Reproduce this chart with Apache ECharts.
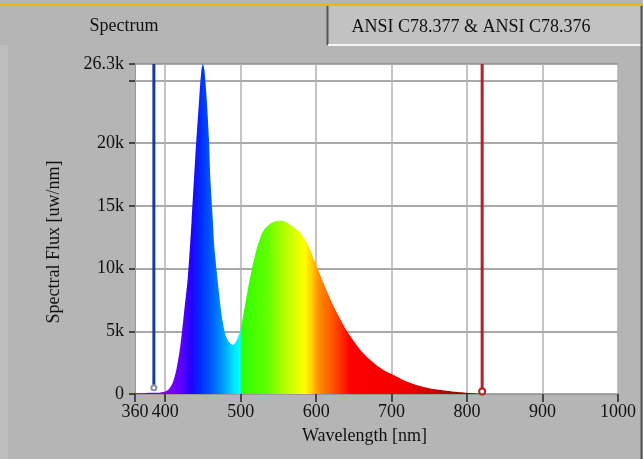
<!DOCTYPE html>
<html>
<head>
<meta charset="utf-8">
<script src="https://cdn.jsdelivr.net/npm/echarts@6/dist/echarts.min.js"></script>
<style>
  html, body { margin: 0; padding: 0; background: #b5b5b5; }
  #chart { width: 643px; height: 459px; }
</style>
</head>
<body>
<div id="chart"></div>
<script>
// spectrum, flux in uw/nm
const wavelengths = [360, 370, 380, 390, 400, 405, 410, 415, 420, 425, 430, 435, 440, 445, 448, 450, 452, 455, 458, 460, 463, 465, 470, 475, 480, 485, 490, 495, 500, 505, 510, 515, 520, 525, 530, 540, 550, 555, 560, 570, 580, 590, 600, 610, 620, 630, 640, 650, 660, 670, 680, 690, 700, 720, 740, 760, 780, 800, 810, 820, 1000]
const flux = [50, 50, 100, 100, 200, 400, 900, 2000, 3800, 6500, 9300, 13800, 19000, 23500, 25800, 26300, 25800, 23500, 20300, 17000, 14000, 11800, 8800, 6200, 4700, 4100, 3900, 4300, 5200, 6800, 8500, 10000, 11300, 12300, 13000, 13600, 13800, 13800, 13700, 13300, 12800, 11800, 10300, 8800, 7400, 6200, 5100, 4200, 3400, 2800, 2300, 1900, 1600, 1000, 600, 350, 200, 100, 50, 0, 0]

// the two limit markers
const blueLine = [[385, 26300], [385, 500]]
const redLine = [[820, 26300], [820, 200]]

const xTicks = [360, 400, 500, 600, 700, 800, 900, 1000]
const yMax = 26300

// rainbow colours along the wavelength axis
const colorStops = [
  [360, '#7000c0'], [400, '#8000f0'], [420, '#6000ff'], [435, '#2000ff'],
  [448, '#0030ff'], [465, '#0068ff'], [478, '#00a0ff'], [490, '#00e0ff'],
  [499, '#00ffff'], [502, '#30ff00'], [535, '#60ff00'], [552, '#a0ff00'],
  [574, '#e0ff00'], [585, '#ffff00'], [594, '#ffd000'], [603, '#ff9000'],
  [618, '#ff6000'], [632, '#ff3000'], [645, '#ff0000'], [720, '#f00000'],
  [790, '#a00000'], [820, '#800000'], [1000, '#800000']
]

const chart = echarts.init(document.getElementById('chart'))
const xMin = 360
const xMax = 1000
const stops = colorStops.map((s) => {
  return { offset: (s[0] - xMin) / (xMax - xMin), color: s[1] }
})
const spectrumData = wavelengths.map((w, i) => [w, flux[i]])

const option = {
  backgroundColor: '#b5b5b5',
  animation: false,
  textStyle: { fontFamily: 'Liberation Serif' },
  graphic: [
    // tab strip
    { type: 'rect', shape: { x: 0, y: 3, width: 643, height: 3 }, style: { fill: '#f2b01e' } },
    { type: 'rect', shape: { x: 0, y: 6, width: 327, height: 39 }, style: { fill: '#b5b5b5' } },
    { type: 'rect', shape: { x: 327, y: 6, width: 314, height: 39 }, style: { fill: '#c2c2c2' } },
    { type: 'line', shape: { x1: 327.5, y1: 6, x2: 327.5, y2: 45 }, style: { stroke: '#555', lineWidth: 2 } },
    { type: 'line', shape: { x1: 328, y1: 45, x2: 641, y2: 45 }, style: { stroke: '#f4f4f4', lineWidth: 2 } },
    { type: 'line', shape: { x1: 641.5, y1: 6, x2: 641.5, y2: 459 }, style: { stroke: '#555', lineWidth: 2 } },
    { type: 'rect', shape: { x: 0, y: 45, width: 8, height: 414 }, style: { fill: '#bdbdbd' } },
    {
      type: 'text', x: 124, y: 26,
      style: { text: 'Spectrum', fill: '#111', font: '18px "Liberation Serif"', align: 'center', verticalAlign: 'middle' }
    },
    {
      type: 'text', x: 471, y: 27,
      style: { text: 'ANSI C78.377 & ANSI C78.376', fill: '#111', font: '18px "Liberation Serif"', align: 'center', verticalAlign: 'middle' }
    }
  ],
  grid: {
    left: 135,
    right: 25,
    top: 64,
    bottom: 65,
    show: true,
    backgroundColor: '#ffffff',
    borderWidth: 0
  },
  xAxis: {
    type: 'value',
    min: xMin,
    max: xMax,
    name: 'Wavelength [nm]',
    nameLocation: 'middle',
    nameGap: 33,
    nameTextStyle: { fontSize: 18, color: '#111', padding: [0, 24, 0, 0] },
    axisLine: { show: true, lineStyle: { color: '#999' } },
    axisTick: { show: true, length: 8, customValues: xTicks, lineStyle: { color: '#222', width: 1.5 } },
    axisLabel: {
      customValues: xTicks,
      fontSize: 18,
      color: '#111',
      margin: 9,
      hideOverlap: false,
      formatter: function (v) { return String(v) }
    },
    splitLine: { show: true, lineStyle: { color: '#b0b0b0', width: 1.5 } }
  },
  yAxis: {
    type: 'value',
    min: 0,
    max: yMax,
    interval: 5000,
    name: 'Spectral Flux [uw/nm]',
    nameLocation: 'middle',
    nameGap: 72,
    nameTextStyle: { fontSize: 18, color: '#111', padding: [0, 26, 0, 0] },
    axisLine: { show: true, lineStyle: { color: '#999' } },
    axisTick: { show: true, length: 6, lineStyle: { color: '#222', width: 1.5 } },
    axisLabel: {
      fontSize: 18,
      color: '#111',
      margin: 11,
      formatter: function (v) {
        if (v === 0) return '0'
        if (v === 25000) return ''
        return (v / 1000) + 'k'
      }
    },
    splitLine: { show: true, lineStyle: { color: '#8c8c8c', width: 1.5 } }
  },
  series: [
    {
      type: 'line',
      data: spectrumData,
      showSymbol: false,
      smooth: 0.25,
      lineStyle: { width: 0 },
      areaStyle: {
        opacity: 1,
        color: new echarts.graphic.LinearGradient(0, 0, 1, 0, stops)
      },
      z: 2
    },
    {
      type: 'line',
      data: blueLine,
      symbol: 'emptyCircle',
      symbolSize: function (v, p) { return p.dataIndex === 1 ? 5 : 0 },
      itemStyle: { color: '#8a8fb0' },
      lineStyle: { color: '#1d3a92', width: 3 },
      z: 3
    },
    {
      type: 'line',
      data: redLine,
      symbol: 'emptyCircle',
      symbolSize: function (v, p) { return p.dataIndex === 1 ? 6 : 0 },
      itemStyle: { color: '#b52222' },
      lineStyle: { color: '#b52222', width: 3 },
      z: 3
    }
  ]
}

chart.setOption(option)
</script>
</body>
</html>
